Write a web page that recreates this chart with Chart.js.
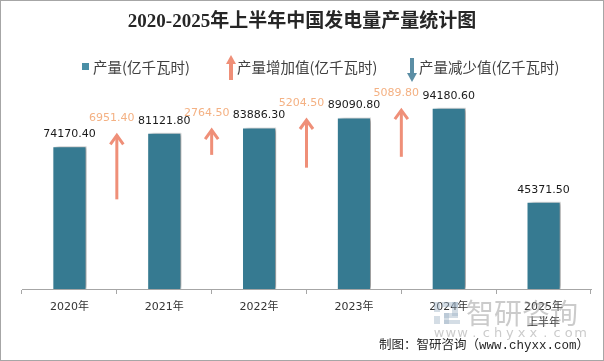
<!DOCTYPE html>
<html>
<head>
<meta charset="utf-8">
<script src="https://cdn.jsdelivr.net/npm/chart.js@4.4.1/dist/chart.umd.min.js"></script>
<style>
  html, body { margin: 0; padding: 0; background: #fff; }
  #wrap { width: 604px; height: 361px; position: relative; }
</style>
</head>
<body>
<div id="wrap"><canvas id="chart" width="604" height="361"></canvas></div>
<script>
'use strict';

// data
let years = ['2020年', '2021年', '2022年', '2023年', '2024年', ['2025年', '上半年']];
let output = [74170.40, 81121.80, 83886.30, 89090.80, 94180.60, 45371.50];
let increase = [null, 6951.40, 2764.50, 5204.50, 5089.80, null];

let titleText = '2020-2025年上半年中国发电量产量统计图';
let legendNames = ['产量(亿千瓦时)', '产量增加值(亿千瓦时)', '产量减少值(亿千瓦时)'];
let sourceText = '制图：智研咨询（www.chyxx.com）';

let barColor = '#367a91';
let upColor = '#ef8f78';
let downColor = '#5b8ea5';
let incLabelColor = '#f4b183';

let canvasElem = document.getElementById('chart');

function barFill(context) {
  let el = context.element;
  if (!el || el.width === undefined) return barColor;
  let left = el.x - el.width / 2;
  let g = context.chart.ctx.createLinearGradient(left, 0, left + el.width, 0);
  g.addColorStop(0, '#4b8ca3');
  g.addColorStop(0.25, barColor);
  g.addColorStop(1, '#34778e');
  return g;
}

function drawArrowLine(ctx, x, yTip, yEnd, color) {
  ctx.save();
  ctx.strokeStyle = color;
  ctx.lineWidth = 3;
  ctx.lineCap = 'butt';
  ctx.beginPath();
  ctx.moveTo(x, yEnd);
  ctx.lineTo(x, yTip + 1);
  ctx.stroke();
  ctx.lineJoin = 'miter';
  ctx.beginPath();
  ctx.moveTo(x - 6.5, yTip + 10);
  ctx.lineTo(x, yTip + 1);
  ctx.lineTo(x + 6.5, yTip + 10);
  ctx.stroke();
  ctx.restore();
}

function drawBlockArrow(ctx, x, y0, y1, color) {
  // y0 = tail, y1 = tip
  let dir = y1 < y0 ? -1 : 1;
  ctx.save();
  ctx.fillStyle = color;
  ctx.fillRect(x - 2, Math.min(y0, y1 - dir * 8), 4, Math.abs(y1 - dir * 8 - y0));
  ctx.beginPath();
  ctx.moveTo(x - 5, y1 - dir * 9);
  ctx.lineTo(x, y1);
  ctx.lineTo(x + 5, y1 - dir * 9);
  ctx.closePath();
  ctx.fill();
  ctx.restore();
}

let extrasPlugin = {
  id: 'extras',
  beforeDatasetDraw(chart) {
    let ctx = chart.ctx;
    ctx.save();
    ctx.shadowColor = 'rgba(0,0,0,0.4)';
    ctx.shadowBlur = 4;
    ctx.shadowOffsetX = 4;
    ctx.shadowOffsetY = 0;
  },
  afterDatasetDraw(chart) {
    chart.ctx.restore();
  },
  afterDraw(chart) {
    let ctx = chart.ctx;
    let xs = chart.scales.x;
    let ys = chart.scales.y;
    let yInc = chart.scales.yInc;
    let meta = chart.getDatasetMeta(0);

    // title
    ctx.save();
    ctx.fillStyle = '#262626';
    ctx.font = 'bold 19px "Liberation Serif", "Noto Sans CJK SC"';
    ctx.textAlign = 'center';
    ctx.textBaseline = 'middle';
    ctx.fillText(titleText, 302, 22);

    // legend
    ctx.font = '14.5px "Noto Sans CJK SC"';
    ctx.textAlign = 'left';
    ctx.fillStyle = '#4a8fa6';
    ctx.fillRect(82, 63, 7, 7);
    ctx.fillStyle = '#404040';
    ctx.fillText(legendNames[0], 93, 67);
    drawBlockArrow(ctx, 231, 80, 55, upColor);
    ctx.fillStyle = '#404040';
    ctx.fillText(legendNames[1], 237, 67);
    drawBlockArrow(ctx, 412, 58, 82, downColor);
    ctx.fillStyle = '#404040';
    ctx.fillText(legendNames[2], 419, 67);

    // bar value labels
    ctx.font = '11px "DejaVu Sans"';
    ctx.textAlign = 'center';
    ctx.fillStyle = '#1a1a1a';
    for (let i = 0; i < output.length; i++) {
      let bar = meta.data[i];
      ctx.fillText(output[i].toFixed(2), bar.x, bar.y - 12);
    }

    // increase arrows between the years
    for (let i = 1; i < increase.length; i++) {
      if (increase[i] === null) continue;
      let x = (xs.getPixelForValue(i - 1) + xs.getPixelForValue(i)) / 2;
      let yTip = ys.getPixelForValue(output[i]) + 1.5;
      let len = yInc.getPixelForValue(0) - yInc.getPixelForValue(increase[i]);
      drawArrowLine(ctx, x, yTip, yTip + len, upColor);
      ctx.fillStyle = incLabelColor;
      ctx.fillText(increase[i].toFixed(2), x - 5, yTip - 16);
    }

    // watermark
    ctx.globalAlpha = 0.45;
    ctx.fillStyle = '#9fb3c6';
    ctx.fillRect(434, 302, 6, 10);
    ctx.fillRect(434, 316, 6, 8);
    ctx.fillRect(442, 302, 16, 5);
    ctx.fillRect(452, 302, 6, 14);
    ctx.fillRect(444, 313, 14, 5);
    ctx.fillRect(444, 313, 5, 11);
    ctx.fillRect(444, 320, 16, 4);
    ctx.fillStyle = '#8c8c8c';
    ctx.font = '28px "Noto Sans CJK SC"';
    ctx.textAlign = 'left';
    ctx.fillText('智研咨询', 466, 313);
    ctx.font = '13px "DejaVu Sans"';
    ctx.textAlign = 'center';
    let wm = 'www.chyxx.com';
    for (let i = 0; i < wm.length; i++) {
      ctx.fillText(wm[i], 439 + i * 11.8, 334);
    }
    ctx.globalAlpha = 1;

    // source
    ctx.fillStyle = '#262626';
    ctx.font = '12.5px "Liberation Mono", "Noto Sans CJK SC"';
    ctx.textAlign = 'right';
    ctx.fillText(sourceText, 589, 346);

    // outer frame
    ctx.strokeStyle = '#a6a6a6';
    ctx.lineWidth = 1;
    ctx.strokeRect(0.5, 0.5, 603, 360);
    ctx.restore();
  }
};

function renderChart() {
  let chartObj = {
    type: 'bar',
    data: {
      labels: years,
      datasets: [{
        label: legendNames[0],
        data: output,
        backgroundColor: barFill,
        borderColor: '#ffffff',
        borderWidth: 1,
        categoryPercentage: 1,
        barPercentage: 0.36
      }]
    },
    options: {
      responsive: false,
      animation: false,
      layout: {
        padding: { top: 58, left: 22, right: 13, bottom: 0 }
      },
      scales: {
        x: {
          offset: true,
          grid: {
            display: true,
            drawOnChartArea: false,
            drawTicks: true,
            tickLength: 5,
            color: '#a6a6a6'
          },
          border: { display: true, color: '#a6a6a6' },
          ticks: {
            color: '#333333',
            padding: 5,
            font: { family: '"DejaVu Sans", "Noto Sans CJK SC"', size: 11, lineHeight: 1.45 },
            maxRotation: 0
          },
          afterFit(scale) {
            scale.height = 72;
          }
        },
        y: {
          display: false,
          min: 0,
          max: 120000
        },
        yInc: {
          display: false,
          position: 'right',
          min: 0,
          max: 24700
        }
      },
      plugins: {
        legend: { display: false },
        title: { display: false },
        tooltip: { enabled: false }
      }
    },
    plugins: [extrasPlugin]
  };

  new Chart(canvasElem, chartObj);
}

renderChart();
</script>
</body>
</html>
